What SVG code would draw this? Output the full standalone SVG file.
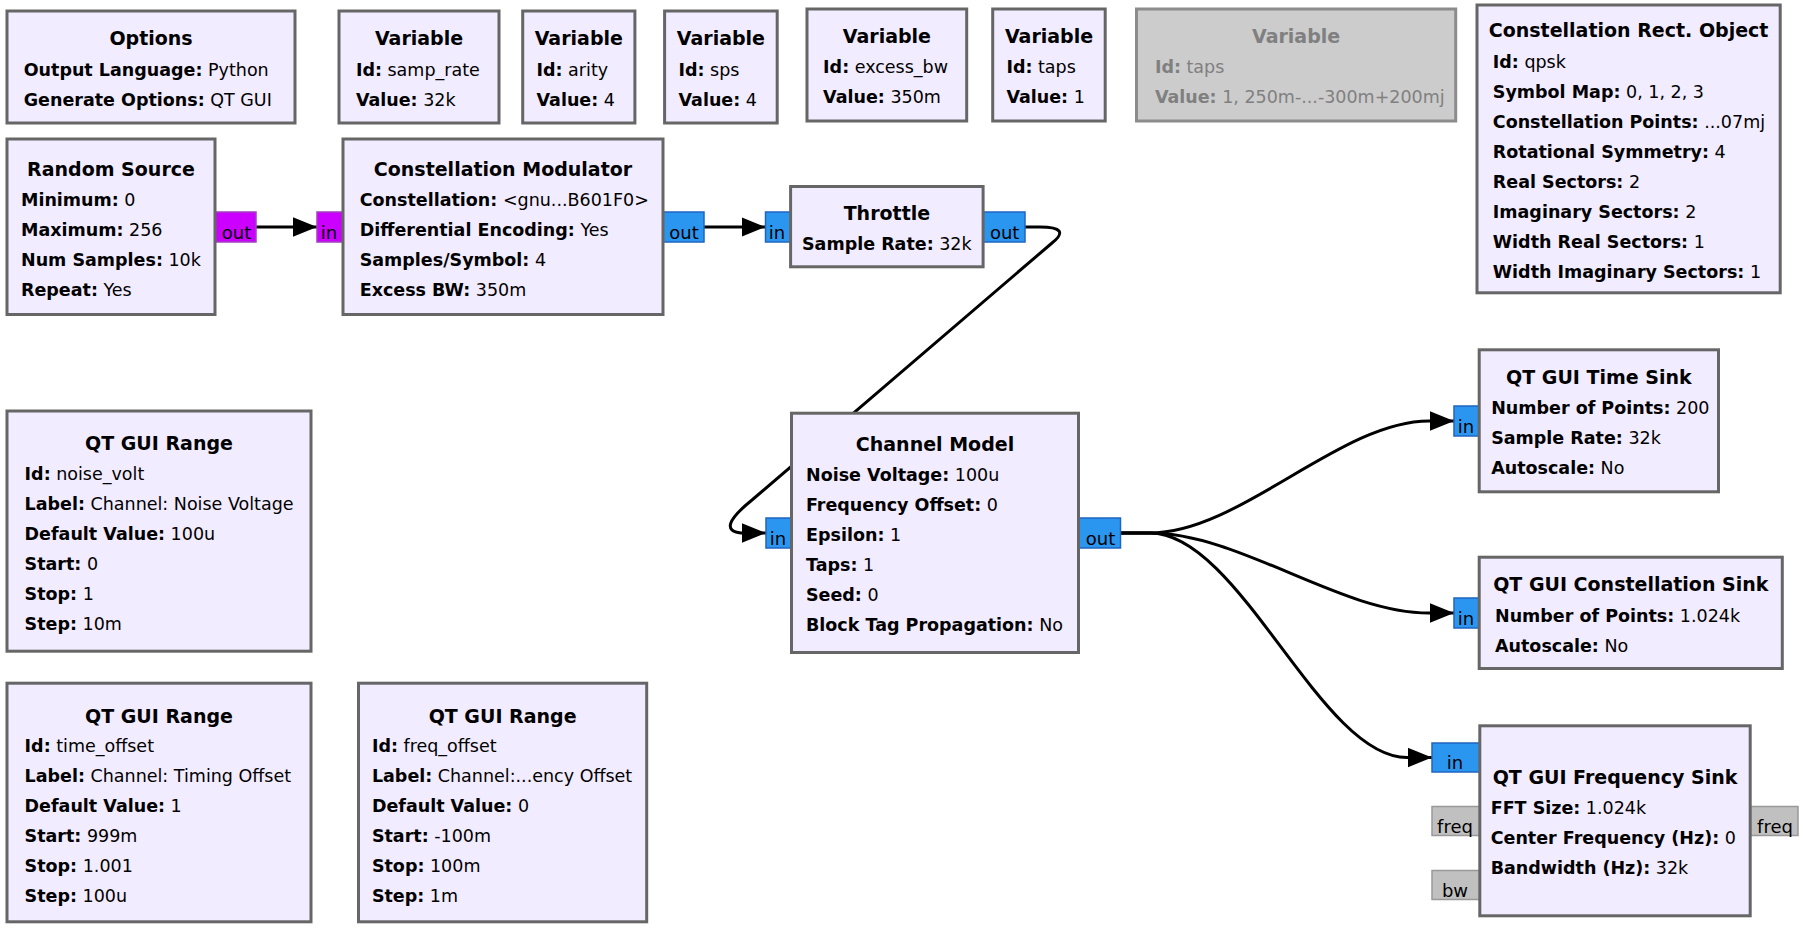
<svg xmlns="http://www.w3.org/2000/svg" width="1803" height="929" viewBox="0 0 1803 929">
<style>
.blk{fill:#F1ECFF;stroke:#666666;stroke-width:3}
.dis{fill:#CCCCCC;stroke:#8C8C8C;stroke-width:3}
.ttl{font-family:'DejaVu Sans',sans-serif;font-size:19px;font-weight:bold;text-anchor:middle;fill:#000}
.prm{font-family:'DejaVu Sans',sans-serif;font-size:17.5px;fill:#000}
.dt{fill:#808080}
.b{font-weight:bold}
.pc{fill:#2A96F0;stroke:#2064C0;stroke-width:1.5}
.pb{fill:#CC00FF;stroke:#A040C0;stroke-width:1.5}
.pm{fill:#C0C0C0;stroke:#999999;stroke-width:1.5}
.pl{font-family:'DejaVu Sans',sans-serif;font-size:18px;text-anchor:middle;fill:#000}
.con{fill:none;stroke:#000;stroke-width:3;marker-end:url(#ah)}
</style>
<defs>
<marker id="ah" markerUnits="userSpaceOnUse" markerWidth="25" markerHeight="20" refX="24" refY="9.7" orient="auto">
<path d="M0,0 L24,9.7 L0,19.4 z" fill="#000"/>
</marker>
</defs>
<rect width="1803" height="929" fill="#FFFFFF"/>
<g id="connectors">
<path class="con" d="M256,227 L317,227"/>
<path class="con" d="M704,227 L765.5,227"/>
<path class="con" d="M1025,227 L1040,227 Q1072,227 1052,243 L752,500 Q715,530 741,533 L766,533"/>
<path class="con" d="M1120.5,533 L1150,533 C1240,533 1340,421 1429,421 L1454,421"/>
<path class="con" d="M1120.5,533 L1150,533 C1240,533 1340,613 1429,613 L1454,613"/>
<path class="con" d="M1120.5,533 L1150,533 C1240,533 1320,757.5 1407,757.5 L1432,757.5"/>
</g>
<g id="options">
<rect class="blk" x="7" y="11" width="288" height="112"/>
<text class="ttl" x="151" y="45">Options</text>
<text class="prm" x="23.7" y="76"><tspan class="b">Output Language:</tspan> Python</text>
<text class="prm" x="23.7" y="106"><tspan class="b">Generate Options:</tspan> QT GUI</text>
</g>
<g id="var_samp_rate">
<rect class="blk" x="339" y="11" width="160" height="112"/>
<text class="ttl" x="419" y="45">Variable</text>
<text class="prm" x="355.9" y="76"><tspan class="b">Id:</tspan> samp_rate</text>
<text class="prm" x="355.9" y="106"><tspan class="b">Value:</tspan> 32k</text>
</g>
<g id="var_arity">
<rect class="blk" x="522.7" y="11" width="112.2" height="112"/>
<text class="ttl" x="578.8" y="45">Variable</text>
<text class="prm" x="536.5" y="76"><tspan class="b">Id:</tspan> arity</text>
<text class="prm" x="536.5" y="106"><tspan class="b">Value:</tspan> 4</text>
</g>
<g id="var_sps">
<rect class="blk" x="664.6" y="11" width="112.6" height="112"/>
<text class="ttl" x="720.9" y="45">Variable</text>
<text class="prm" x="678.5" y="76"><tspan class="b">Id:</tspan> sps</text>
<text class="prm" x="678.5" y="106"><tspan class="b">Value:</tspan> 4</text>
</g>
<g id="var_excess_bw">
<rect class="blk" x="807" y="9" width="159.7" height="112"/>
<text class="ttl" x="886.9" y="43.3">Variable</text>
<text class="prm" x="823.1" y="73.3"><tspan class="b">Id:</tspan> excess_bw</text>
<text class="prm" x="823.1" y="103.3"><tspan class="b">Value:</tspan> 350m</text>
</g>
<g id="var_taps">
<rect class="blk" x="992.7" y="9" width="112.5" height="112"/>
<text class="ttl" x="1049" y="43.3">Variable</text>
<text class="prm" x="1006.4" y="73.3"><tspan class="b">Id:</tspan> taps</text>
<text class="prm" x="1006.4" y="103.3"><tspan class="b">Value:</tspan> 1</text>
</g>
<g id="var_taps_disabled">
<rect class="dis" x="1136.5" y="9" width="319.2" height="112"/>
<text class="ttl dt" x="1296.1" y="43.3">Variable</text>
<text class="prm dt" x="1154.9" y="73.3"><tspan class="b">Id:</tspan> taps</text>
<text class="prm dt" x="1154.9" y="103.3"><tspan class="b">Value:</tspan> 1, 250m-...-300m+200mj</text>
</g>
<g id="constellation_rect">
<rect class="blk" x="1477" y="5" width="303.2" height="287.8"/>
<text class="ttl" x="1628.6" y="37.3">Constellation Rect. Object</text>
<text class="prm" x="1492.8" y="68.3"><tspan class="b">Id:</tspan> qpsk</text>
<text class="prm" x="1492.8" y="98.3"><tspan class="b">Symbol Map:</tspan> 0, 1, 2, 3</text>
<text class="prm" x="1492.8" y="128.3"><tspan class="b">Constellation Points:</tspan> ...07mj</text>
<text class="prm" x="1492.8" y="158.3"><tspan class="b">Rotational Symmetry:</tspan> 4</text>
<text class="prm" x="1492.8" y="188.3"><tspan class="b">Real Sectors:</tspan> 2</text>
<text class="prm" x="1492.8" y="218.3"><tspan class="b">Imaginary Sectors:</tspan> 2</text>
<text class="prm" x="1492.8" y="248.3"><tspan class="b">Width Real Sectors:</tspan> 1</text>
<text class="prm" x="1492.8" y="278.3"><tspan class="b">Width Imaginary Sectors:</tspan> 1</text>
</g>
<g id="random_source">
<rect class="pb" x="212" y="212" width="44" height="30"/>
<text class="pl" x="236.5" y="239">out</text>
<rect class="blk" x="7" y="139" width="208" height="175.5"/>
<text class="ttl" x="111" y="176">Random Source</text>
<text class="prm" x="21" y="206"><tspan class="b">Minimum:</tspan> 0</text>
<text class="prm" x="21" y="236"><tspan class="b">Maximum:</tspan> 256</text>
<text class="prm" x="21" y="266"><tspan class="b">Num Samples:</tspan> 10k</text>
<text class="prm" x="21" y="296"><tspan class="b">Repeat:</tspan> Yes</text>
</g>
<g id="constellation_modulator">
<rect class="pb" x="317" y="212" width="28" height="30"/>
<text class="pl" x="329" y="239">in</text>
<rect class="pc" x="660" y="212" width="44" height="30"/>
<text class="pl" x="684" y="239">out</text>
<rect class="blk" x="343" y="139" width="320" height="175.5"/>
<text class="ttl" x="503" y="176">Constellation Modulator</text>
<text class="prm" x="359.7" y="206"><tspan class="b">Constellation:</tspan> &lt;gnu...B601F0&gt;</text>
<text class="prm" x="359.7" y="236"><tspan class="b">Differential Encoding:</tspan> Yes</text>
<text class="prm" x="359.7" y="266"><tspan class="b">Samples/Symbol:</tspan> 4</text>
<text class="prm" x="359.7" y="296"><tspan class="b">Excess BW:</tspan> 350m</text>
</g>
<g id="throttle">
<rect class="pc" x="765.5" y="212" width="28" height="30"/>
<text class="pl" x="777" y="239">in</text>
<rect class="pc" x="981" y="212" width="44" height="30"/>
<text class="pl" x="1004.7" y="239">out</text>
<rect class="blk" x="790.6" y="186.5" width="192.5" height="80.3"/>
<text class="ttl" x="886.9" y="220">Throttle</text>
<text class="prm" x="802" y="250"><tspan class="b">Sample Rate:</tspan> 32k</text>
</g>
<g id="channel_model">
<rect class="pc" x="766" y="518" width="28" height="30"/>
<text class="pl" x="778" y="545">in</text>
<rect class="pc" x="1076" y="518" width="44.5" height="30"/>
<text class="pl" x="1100.5" y="545">out</text>
<rect class="blk" x="791.5" y="413.2" width="287" height="239.3"/>
<text class="ttl" x="935" y="450.7">Channel Model</text>
<text class="prm" x="806" y="480.7"><tspan class="b">Noise Voltage:</tspan> 100u</text>
<text class="prm" x="806" y="510.7"><tspan class="b">Frequency Offset:</tspan> 0</text>
<text class="prm" x="806" y="540.7"><tspan class="b">Epsilon:</tspan> 1</text>
<text class="prm" x="806" y="570.7"><tspan class="b">Taps:</tspan> 1</text>
<text class="prm" x="806" y="600.7"><tspan class="b">Seed:</tspan> 0</text>
<text class="prm" x="806" y="630.7"><tspan class="b">Block Tag Propagation:</tspan> No</text>
</g>
<g id="range_noise_volt">
<rect class="blk" x="7" y="411" width="304" height="240.2"/>
<text class="ttl" x="159" y="450">QT GUI Range</text>
<text class="prm" x="24.6" y="479.5"><tspan class="b">Id:</tspan> noise_volt</text>
<text class="prm" x="24.6" y="509.5"><tspan class="b">Label:</tspan> Channel: Noise Voltage</text>
<text class="prm" x="24.6" y="539.5"><tspan class="b">Default Value:</tspan> 100u</text>
<text class="prm" x="24.6" y="569.5"><tspan class="b">Start:</tspan> 0</text>
<text class="prm" x="24.6" y="599.5"><tspan class="b">Stop:</tspan> 1</text>
<text class="prm" x="24.6" y="629.5"><tspan class="b">Step:</tspan> 10m</text>
</g>
<g id="range_time_offset">
<rect class="blk" x="7" y="683.2" width="304" height="238.6"/>
<text class="ttl" x="159" y="722.5">QT GUI Range</text>
<text class="prm" x="24.6" y="752"><tspan class="b">Id:</tspan> time_offset</text>
<text class="prm" x="24.6" y="782"><tspan class="b">Label:</tspan> Channel: Timing Offset</text>
<text class="prm" x="24.6" y="812"><tspan class="b">Default Value:</tspan> 1</text>
<text class="prm" x="24.6" y="842"><tspan class="b">Start:</tspan> 999m</text>
<text class="prm" x="24.6" y="872"><tspan class="b">Stop:</tspan> 1.001</text>
<text class="prm" x="24.6" y="902"><tspan class="b">Step:</tspan> 100u</text>
</g>
<g id="range_freq_offset">
<rect class="blk" x="358.5" y="683.2" width="288.2" height="238.6"/>
<text class="ttl" x="502.6" y="722.5">QT GUI Range</text>
<text class="prm" x="371.9" y="752"><tspan class="b">Id:</tspan> freq_offset</text>
<text class="prm" x="371.9" y="782"><tspan class="b">Label:</tspan> Channel:...ency Offset</text>
<text class="prm" x="371.9" y="812"><tspan class="b">Default Value:</tspan> 0</text>
<text class="prm" x="371.9" y="842"><tspan class="b">Start:</tspan> -100m</text>
<text class="prm" x="371.9" y="872"><tspan class="b">Stop:</tspan> 100m</text>
<text class="prm" x="371.9" y="902"><tspan class="b">Step:</tspan> 1m</text>
</g>
<g id="time_sink">
<rect class="pc" x="1454" y="406" width="28" height="30"/>
<text class="pl" x="1466" y="433">in</text>
<rect class="blk" x="1479.2" y="349.8" width="239.3" height="142"/>
<text class="ttl" x="1598.9" y="384">QT GUI Time Sink</text>
<text class="prm" x="1491.2" y="414.3"><tspan class="b">Number of Points:</tspan> 200</text>
<text class="prm" x="1491.2" y="444.3"><tspan class="b">Sample Rate:</tspan> 32k</text>
<text class="prm" x="1491.2" y="474.3"><tspan class="b">Autoscale:</tspan> No</text>
</g>
<g id="constellation_sink">
<rect class="pc" x="1454" y="598" width="28" height="30"/>
<text class="pl" x="1466" y="625">in</text>
<rect class="blk" x="1479.2" y="557.2" width="303.1" height="111.3"/>
<text class="ttl" x="1630.8" y="591">QT GUI Constellation Sink</text>
<text class="prm" x="1495" y="621.7"><tspan class="b">Number of Points:</tspan> 1.024k</text>
<text class="prm" x="1495" y="651.7"><tspan class="b">Autoscale:</tspan> No</text>
</g>
<g id="frequency_sink">
<rect class="pc" x="1432" y="743" width="50" height="29"/>
<text class="pl" x="1455" y="768.5">in</text>
<rect class="pm" x="1432" y="806.5" width="50" height="29"/>
<text class="pl" x="1455" y="832.5">freq</text>
<rect class="pm" x="1432" y="870.5" width="50" height="29"/>
<text class="pl" x="1455" y="896.5">bw</text>
<rect class="pm" x="1748" y="806.5" width="50" height="29"/>
<text class="pl" x="1775" y="832.5">freq</text>
<rect class="blk" x="1479.8" y="725.8" width="270.4" height="190"/>
<text class="ttl" x="1615" y="784">QT GUI Frequency Sink</text>
<text class="prm" x="1490.7" y="814"><tspan class="b">FFT Size:</tspan> 1.024k</text>
<text class="prm" x="1490.7" y="844"><tspan class="b">Center Frequency (Hz):</tspan> 0</text>
<text class="prm" x="1490.7" y="874"><tspan class="b">Bandwidth (Hz):</tspan> 32k</text>
</g>
</svg>
